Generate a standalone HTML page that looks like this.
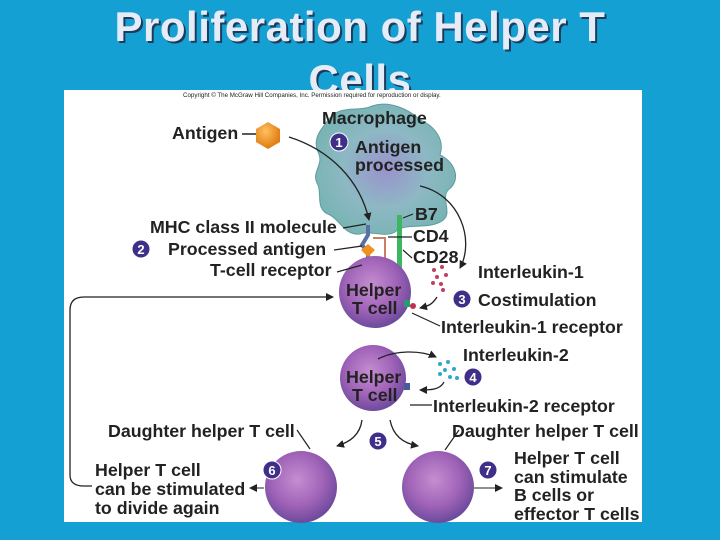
<!DOCTYPE html>
<html><head><meta charset="utf-8"><style>
html,body{margin:0;padding:0;}
body{width:720px;height:540px;background:#14a0d2;overflow:hidden;position:relative;font-family:"Liberation Sans",Arial,sans-serif;}
.t{position:absolute;left:0;width:720px;text-align:center;color:#e6ecf7;font-weight:bold;font-size:42px;text-shadow:2px 2px 0 #1d3b5a;letter-spacing:0.5px;line-height:48px;}
svg{position:absolute;left:0;top:0;}
text{font-family:"Liberation Sans",Arial,sans-serif;font-weight:bold;fill:#222;}
</style></head><body>
<div class="t" style="top:3px">Proliferation of Helper T</div>
<div class="t" style="top:56px">Cells</div>
<svg width="720" height="540" viewBox="0 0 720 540">
<defs>
<radialGradient id="pc" cx="45%" cy="40%" r="60%"><stop offset="0" stop-color="#c58ed0"/><stop offset="0.6" stop-color="#a063b8"/><stop offset="1" stop-color="#6d4a9c"/></radialGradient>
<radialGradient id="mc" cx="50%" cy="50%" r="60%"><stop offset="0" stop-color="#9a92cc"/><stop offset="0.5" stop-color="#8db8c4"/><stop offset="1" stop-color="#74b3b0"/></radialGradient>
<radialGradient id="og" cx="40%" cy="35%" r="65%"><stop offset="0" stop-color="#ffc060"/><stop offset="1" stop-color="#e07a10"/></radialGradient>
<marker id="ah" markerWidth="8" markerHeight="8" refX="7" refY="4" orient="auto" markerUnits="userSpaceOnUse"><path d="M0,0 L8,4 L0,8 Z" fill="#222"/></marker>
</defs>
<rect x="64" y="90" width="578" height="432" fill="#fff"/>
<text x="183" y="97" style="font-size:6.2px;font-weight:normal" fill="#444">Copyright © The McGraw Hill Companies, Inc. Permission required for reproduction or display.</text>
<path d="M330,118 C340,105 360,112 372,106 C390,100 410,110 420,120 C435,126 445,140 440,155 C455,162 462,180 448,190 C440,200 455,215 440,222 C425,230 405,222 395,232 C385,238 370,230 360,234 C345,236 340,220 330,215 C315,210 322,195 318,185 C310,172 325,165 318,152 C312,138 322,128 330,118 Z" fill="url(#mc)" stroke="#5b9da0" stroke-width="1"/>
<rect x="397" y="215" width="5" height="92" fill="#3cb660"/>
<path d="M368,225 L368,235 L362,245 L368,252 L368,262" stroke="#5a6fa6" stroke-width="4" fill="none"/>
<path d="M368,244 L375,250 L368,257 L361,250 Z" fill="#f09020"/>
<path d="M373,238 L385,238 L385,296" stroke="#c98060" stroke-width="2" fill="none"/>
<rect x="363" y="258" width="10" height="10" fill="#8a56a8"/>
<circle cx="375" cy="292" r="36" fill="url(#pc)"/>
<circle cx="373" cy="378" r="33" fill="url(#pc)"/>
<circle cx="301" cy="487" r="36" fill="url(#pc)"/>
<circle cx="438" cy="487" r="36" fill="url(#pc)"/>
<rect x="404" y="300" width="6" height="7" fill="#2a9a70"/>
<circle cx="413" cy="306" r="3" fill="#c03050"/>
<rect x="404" y="383" width="6" height="7" fill="#4a5aa0"/>
<polygon points="268,122 280,129 280,142 268,149 256,142 256,129" fill="url(#og)"/>
<line x1="242" y1="134" x2="256" y2="134" stroke="#222" stroke-width="1.5"/>
<path d="M289,137 C330,150 360,180 369,220" stroke="#222" stroke-width="1.3" fill="none" marker-end="url(#ah)"/>
<path d="M420,186 C460,195 475,240 460,268" stroke="#222" stroke-width="1.3" fill="none" marker-end="url(#ah)"/>
<path d="M437,297 C432,305 428,306 420,308" stroke="#222" stroke-width="1.3" fill="none" marker-end="url(#ah)"/>
<path d="M378,359 C395,350 420,350 436,357" stroke="#222" stroke-width="1.3" fill="none" marker-end="url(#ah)"/>
<path d="M444,382 C440,390 430,390 420,390" stroke="#222" stroke-width="1.3" fill="none" marker-end="url(#ah)"/>
<path d="M362,420 C360,435 350,442 337,446" stroke="#222" stroke-width="1.3" fill="none" marker-end="url(#ah)"/>
<path d="M390,420 C393,435 402,443 418,446" stroke="#222" stroke-width="1.3" fill="none" marker-end="url(#ah)"/>
<path d="M84,297 L333,297" stroke="#222" stroke-width="1.3" fill="none" marker-end="url(#ah)"/>
<path d="M84,297 Q70,297 70,310 L70,475 Q70,486 84,486 L92,486" stroke="#222" stroke-width="1.3" fill="none"/>
<line x1="264" y1="488" x2="250" y2="488" stroke="#222" stroke-width="1" marker-end="url(#ah)"/>
<line x1="474" y1="488" x2="502" y2="488" stroke="#222" stroke-width="1" marker-end="url(#ah)"/>
<g stroke="#222" stroke-width="1.2">
<line x1="343" y1="228" x2="366" y2="224"/>
<line x1="334" y1="250" x2="362" y2="246"/>
<line x1="337" y1="272" x2="362" y2="265"/>
<line x1="403" y1="218" x2="413" y2="214"/>
<line x1="388" y1="237" x2="412" y2="237"/>
<line x1="403" y1="250" x2="412" y2="258"/>
<line x1="412" y1="313" x2="440" y2="326"/>
<line x1="410" y1="405" x2="432" y2="405"/>
<line x1="297" y1="430" x2="310" y2="449"/>
<line x1="459" y1="430" x2="445" y2="450"/>
</g>
<g fill="#c04060"><circle cx="434" cy="270" r="2"/><circle cx="442" cy="267" r="2"/><circle cx="437" cy="277" r="2"/><circle cx="446" cy="275" r="2"/><circle cx="441" cy="284" r="2"/><circle cx="433" cy="283" r="2"/><circle cx="443" cy="290" r="2"/></g>
<g fill="#30a8c8"><circle cx="440" cy="364" r="2"/><circle cx="448" cy="362" r="2"/><circle cx="445" cy="370" r="2"/><circle cx="454" cy="369" r="2"/><circle cx="440" cy="374" r="2"/><circle cx="450" cy="377" r="2"/><circle cx="457" cy="378" r="2"/></g>
<g fill="#3f2f88" stroke="#fff" stroke-width="1">
<circle cx="339" cy="142" r="9"/><circle cx="141" cy="249" r="9"/><circle cx="462" cy="299" r="9"/><circle cx="473" cy="377" r="9"/><circle cx="378" cy="441" r="9"/><circle cx="272" cy="470" r="9"/><circle cx="488" cy="470" r="9"/>
</g>
<g style="font-size:13px" text-anchor="middle">
<text x="339" y="147" style="fill:#fff">1</text><text x="141" y="254" style="fill:#fff">2</text><text x="462" y="304" style="fill:#fff">3</text><text x="473" y="382" style="fill:#fff">4</text><text x="378" y="446" style="fill:#fff">5</text><text x="272" y="475" style="fill:#fff">6</text><text x="488" y="475" style="fill:#fff">7</text>
</g>
<g style="font-size:17.8px">
<text x="172" y="139">Antigen</text>
<text x="322" y="124">Macrophage</text>
<text x="355" y="153">Antigen</text>
<text x="355" y="171">processed</text>
<text x="150" y="233">MHC class II molecule</text>
<text x="168" y="255">Processed antigen</text>
<text x="210" y="276">T-cell receptor</text>
<text x="415" y="220">B7</text>
<text x="413" y="242">CD4</text>
<text x="413" y="263">CD28</text>
<text x="346" y="296">Helper</text>
<text x="352" y="314">T cell</text>
<text x="478" y="278">Interleukin-1</text>
<text x="478" y="306">Costimulation</text>
<text x="441" y="333">Interleukin-1 receptor</text>
<text x="346" y="383">Helper</text>
<text x="352" y="401">T cell</text>
<text x="463" y="361">Interleukin-2</text>
<text x="433" y="412">Interleukin-2 receptor</text>
<text x="108" y="437">Daughter helper T cell</text>
<text x="452" y="437">Daughter helper T cell</text>
<text x="95" y="476">Helper T cell</text>
<text x="95" y="495">can be stimulated</text>
<text x="95" y="514">to divide again</text>
<text x="514" y="464">Helper T cell</text>
<text x="514" y="483">can stimulate</text>
<text x="514" y="501">B cells or</text>
<text x="514" y="520">effector T cells</text>
</g>
</svg>
</body></html>
